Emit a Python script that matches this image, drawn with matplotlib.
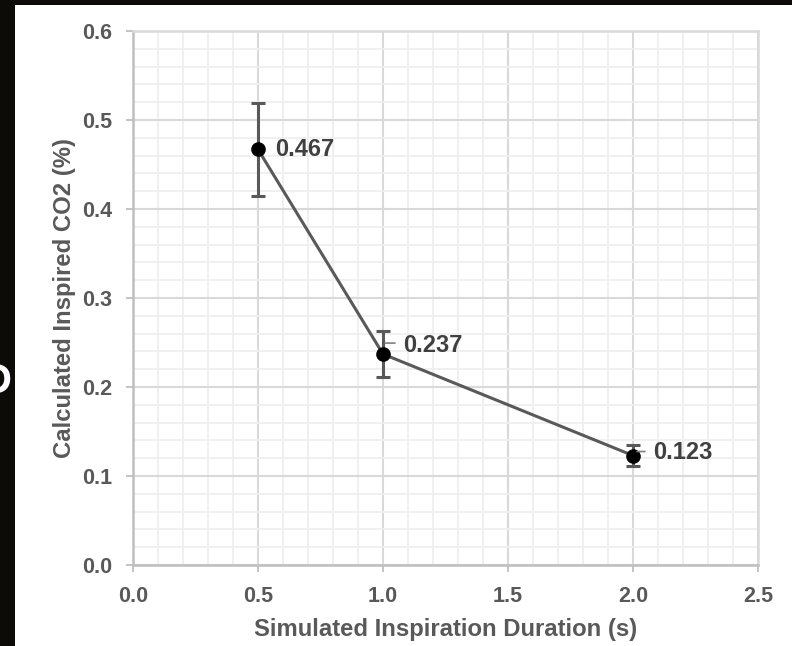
import matplotlib
matplotlib.use("Agg")
import matplotlib.pyplot as plt
from matplotlib.patches import Rectangle
from matplotlib.ticker import MultipleLocator, FormatStrFormatter
from matplotlib.transforms import ScaledTranslation

# ---- data ----
durations = [0.5, 1.0, 2.0]
co2_values = [0.467, 0.237, 0.123]
co2_errors = [0.052, 0.026, 0.012]
value_labels = ["0.467", "0.237", "0.123"]
x_label = "Simulated Inspiration Duration (s)"
y_label = "Calculated Inspired CO2 (%)"

plt.rcParams['font.family'] = ['Liberation Sans', 'DejaVu Sans']
plt.rcParams['font.weight'] = 'bold'

W, H = 792, 646
fig = plt.figure(figsize=(W / 100, H / 100), dpi=100)
fig.patch.set_facecolor('#0d0b08')
fig.patches.append(Rectangle((15 / W, 0), (W - 15) / W, (H - 5) / H,
                             transform=fig.transFigure, facecolor='white',
                             edgecolor='none', zorder=-10))
fig.text(11 / W, 1 - 393 / H, "D", color='white', fontsize=30,
         fontweight='bold', ha='right', va='baseline')

ax = fig.add_axes([133 / W, 1 - 565 / H, (758 - 133) / W, (565 - 31) / H])
ax.set_facecolor('white')

text_col = '#595959'
ax.set_xlim(0, 2.5)
ax.set_ylim(0, 0.6)
ax.xaxis.set_major_locator(MultipleLocator(0.5))
ax.xaxis.set_minor_locator(MultipleLocator(0.1))
ax.yaxis.set_major_locator(MultipleLocator(0.1))
ax.yaxis.set_minor_locator(MultipleLocator(0.02))
ax.xaxis.set_major_formatter(FormatStrFormatter('%.1f'))
ax.yaxis.set_major_formatter(FormatStrFormatter('%.1f'))

ax.grid(which='major', color='#d9d9d9', lw=1.5, zorder=0)
ax.grid(which='minor', color='#efefef', lw=1.3, zorder=0)
ax.set_axisbelow(True)

for s in ['left', 'bottom']:
    ax.spines[s].set_color('#bfbfbf')
    ax.spines[s].set_linewidth(1.8)
for s in ['top', 'right']:
    ax.spines[s].set_color('#d9d9d9')
    ax.spines[s].set_linewidth(1.8)

ax.tick_params(axis='both', which='major', length=5, width=1.3, color='#bfbfbf',
               labelcolor=text_col, labelsize=15.5)
ax.tick_params(axis='y', which='major', pad=10)
ax.tick_params(axis='x', which='major', pad=10)
ax.tick_params(which='minor', length=0)

ax.set_xlabel(x_label, fontsize=17.2, fontweight='bold', color=text_col, labelpad=8)
ax.set_ylabel(y_label, fontsize=17.2, fontweight='bold', color=text_col, labelpad=4)

ax.errorbar(durations, co2_values, yerr=co2_errors, color='#595959', lw=2.2,
            ecolor='#595959', elinewidth=2.2, capsize=5, capthick=2.2,
            marker='o', markersize=9.5, markerfacecolor='black',
            markeredgecolor='black', zorder=3)

# data labels (offsets in pixels)
label_offsets = [(17, 0), (20, 9), (20, 3)]
leader_lines = [None, ((2, 11), (12, 11)), ((4, 4), (12, 4))]
for x, y, lab, (dx, dy), lead in zip(durations, co2_values, value_labels,
                                     label_offsets, leader_lines):
    ax.annotate(lab, (x, y), xytext=(dx * 0.72, dy * 0.72),
                textcoords='offset points', ha='left', va='center',
                fontsize=17, fontweight='bold', color='#404040', zorder=4)
    if lead is not None:
        (x0, y0), (x1, y1) = lead
        t0 = ax.transData + ScaledTranslation(x0 / 100, y0 / 100, fig.dpi_scale_trans)
        t1 = ax.transData + ScaledTranslation(x1 / 100, y1 / 100, fig.dpi_scale_trans)
        ax.annotate('', xy=(x, y), xycoords=t1, xytext=(x, y), textcoords=t0,
                    arrowprops=dict(arrowstyle='-', color='#7f7f7f', lw=1.2,
                                    shrinkA=0, shrinkB=0), zorder=4)

fig.savefig('out.png', dpi=100, facecolor=fig.get_facecolor())
